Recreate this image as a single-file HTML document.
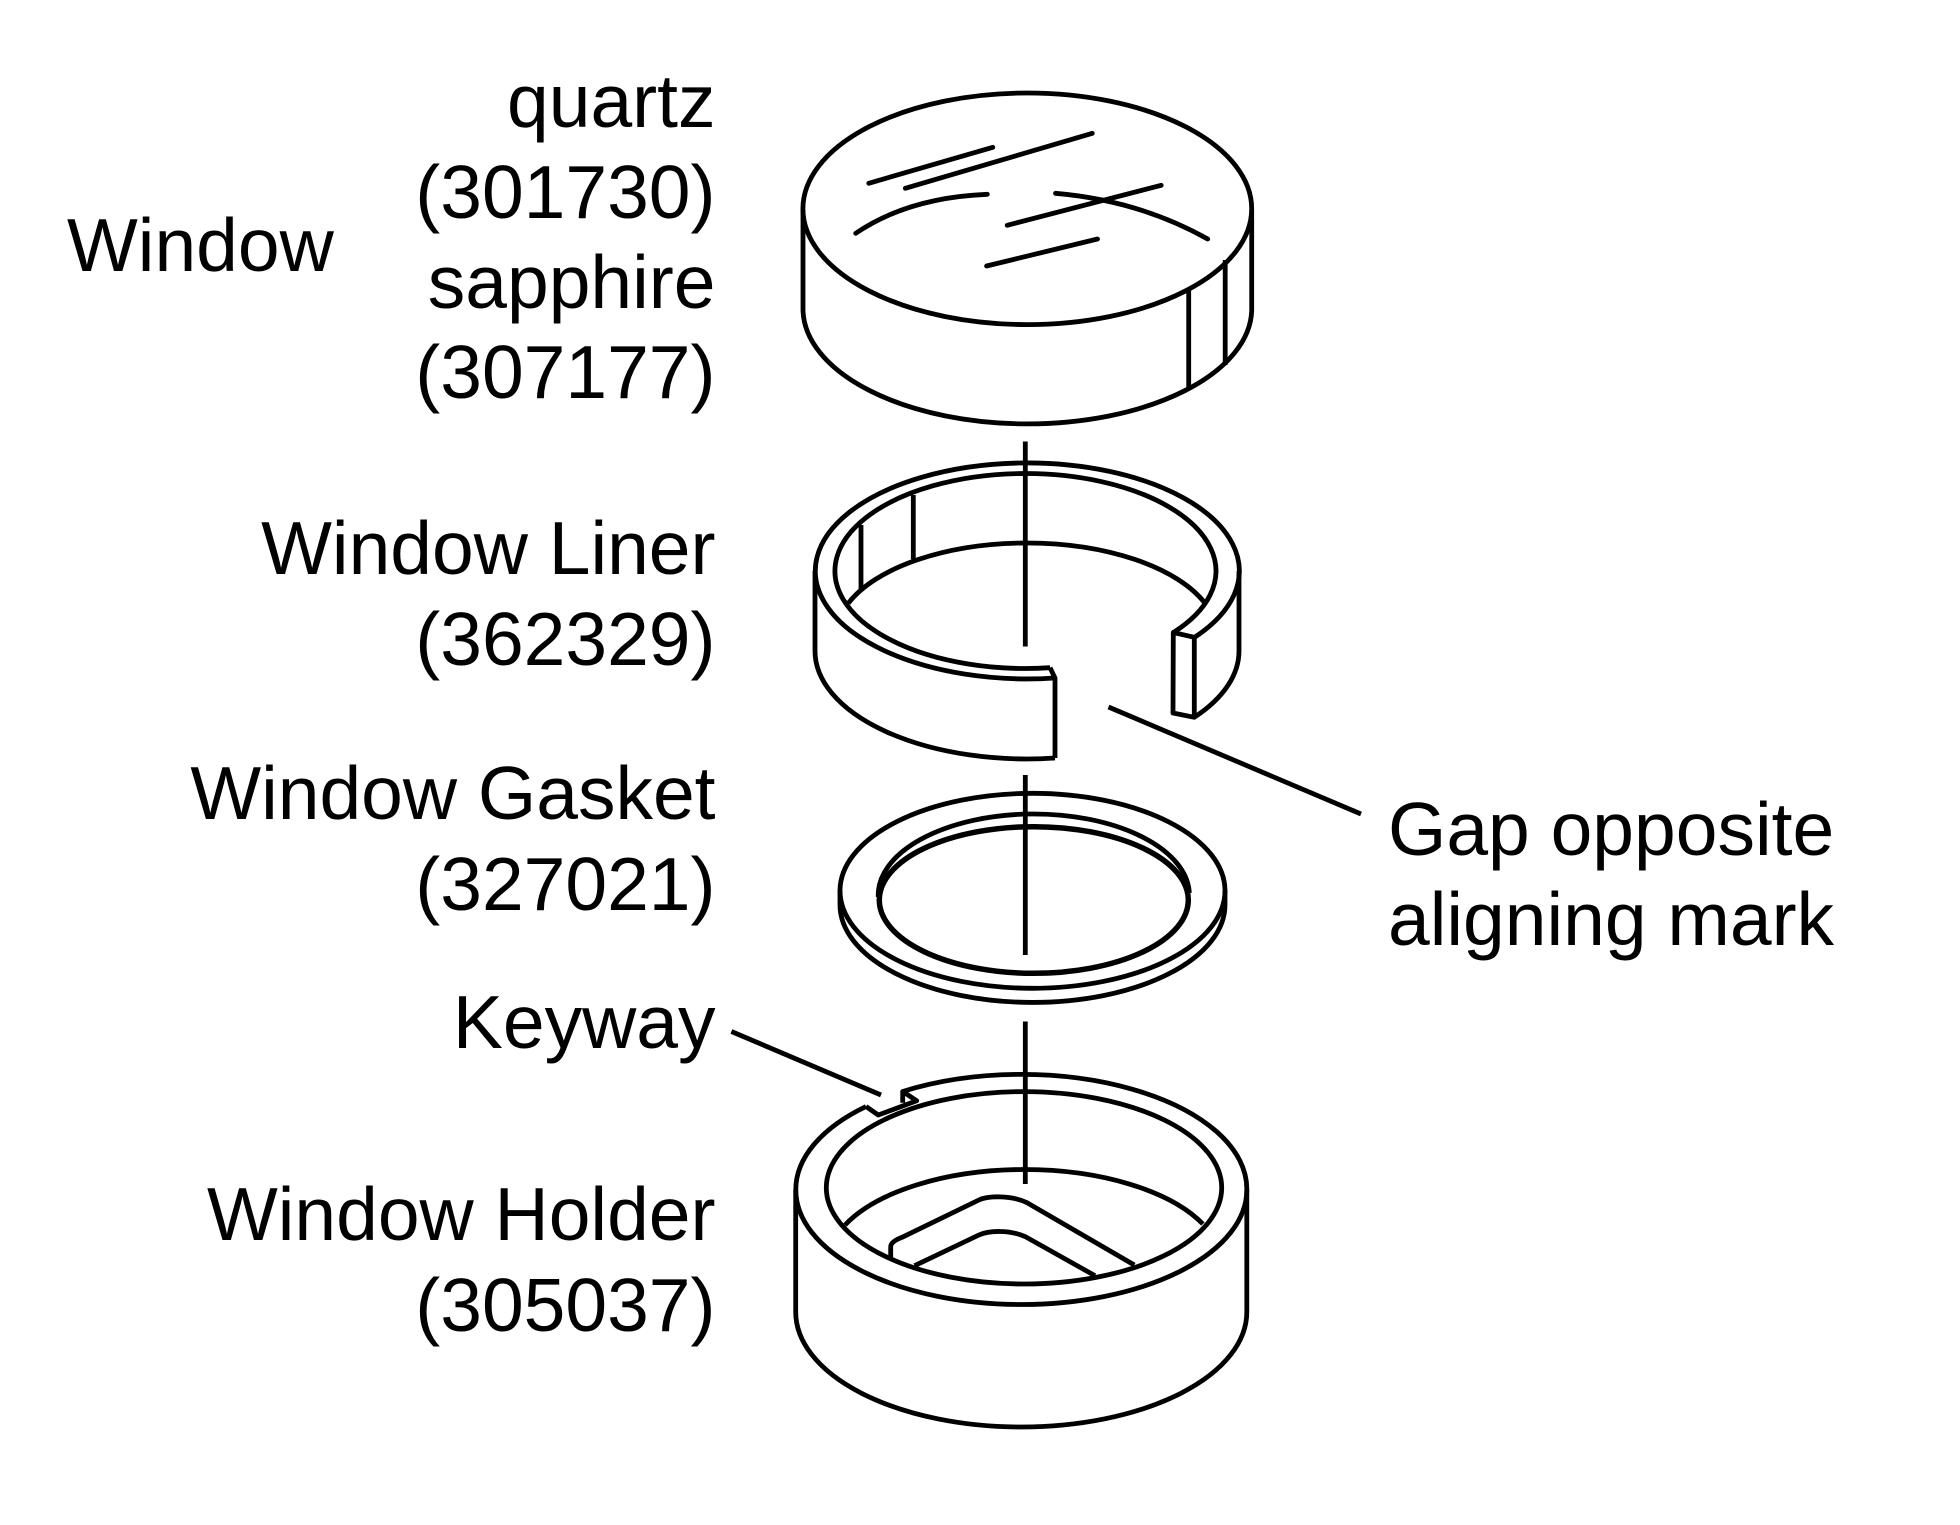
<!DOCTYPE html>
<html>
<head>
<meta charset="utf-8">
<style>
html,body{margin:0;padding:0;background:#fff;}
svg{display:block;}
text{font-family:"Liberation Sans",Arial,sans-serif;font-size:75px;fill:#000;}
.e{text-anchor:end;}
</style>
</head>
<body>
<svg width="1960" height="1525" viewBox="0 0 1960 1525" xmlns="http://www.w3.org/2000/svg">
<rect width="1960" height="1525" fill="#fff"/>
<g fill="none" stroke="#000" stroke-width="4.8" stroke-linejoin="round">
  <!-- Window -->
  <ellipse cx="1027.3" cy="208.8" rx="224.4" ry="115.8"/>
  <path d="M803 210V311A224.4 115.3 0 0 0 1251.7 311V210"/>
  <path d="M1188.7 288V390M1225.2 260V365"/>
  <g stroke-linecap="round">
    <path d="M868.8 183.3L992.8 147.3M905.3 188.3L1092.3 133.3"/>
    <path d="M855.7 233.3Q908.4 197.5 987.3 194.3"/>
    <path d="M1007.2 225.3L1161.2 185.3"/>
    <path d="M1055.5 193.3Q1139 200.5 1207.7 239"/>
    <path d="M986.6 266L1097.5 239"/>
  </g>
  <!-- Axis -->
  <path d="M1025.3 441.5V646.5M1025.3 775V955M1025.3 1021.5V1184"/>
  <!-- Liner -->
  <path d="M1055 678A212 108 0 1 1 1195 637"/>
  <path d="M1050 667.7A190.5 97.5 0 1 1 1173.3 632.5"/>
  <path d="M1050 667.7L1055 678V758"/>
  <path d="M815 571V650A212 108 0 0 0 1055 758"/>
  <path d="M848.3 603.3A190.5 93 0 0 1 1205 603.3"/>
  <path d="M861 525V590M913.3 495V559.3"/>
  <path d="M1173.3 632.5L1194.3 637.3V717.3L1173 713Z"/>
  <path d="M1194.3 717.3A212 108 0 0 0 1239 650V571"/>
  <path d="M1108.5 707L1361 814"/>
  <!-- Gasket -->
  <ellipse cx="1032.5" cy="890.8" rx="192.5" ry="97.5"/>
  <path d="M840 890V905A192.5 97.5 0 0 0 1225 905V890"/>
  <path d="M878.3 897A155.5 81 0 0 1 1189.3 893"/>
  <ellipse cx="1033.8" cy="900" rx="154.5" ry="73.3" stroke-width="5.5"/>
  <!-- Holder -->
  <path d="M731.4 1031.5L881 1095"/>
  <path d="M866 1106.5L878.3 1115L916.7 1100.7L902.7 1091.5V1102.7"/>
  <path d="M866 1106.5A225.5 114.5 0 0 0 795.8 1190A225.5 114.5 0 0 0 1246.8 1190A225.5 114.5 0 0 0 902.7 1091.5"/>
  <ellipse cx="1024" cy="1187.8" rx="197.7" ry="96.2"/>
  <path d="M795.7 1190V1312A225.5 115 0 0 0 1246.8 1312V1190"/>
  <path d="M845 1225A197 94.5 0 0 1 1202.9 1224"/>
  <path d="M890.7 1257.3V1246.7Q890.7 1241.7 902.1 1237.3L978.9 1200C987.9 1195.7 1011 1195 1027 1202.7L1134.3 1265"/>
  <path d="M914.6 1265.7L978.9 1235C987.9 1230.7 1009.3 1229.3 1025.4 1236.7L1095 1275.7"/>
</g>
<text x="67" y="271">Window</text>
<text class="e" x="715.5" y="127">quartz</text>
<text class="e" x="715.5" y="218">(301730)</text>
<text class="e" x="715.5" y="308">sapphire</text>
<text class="e" x="715.5" y="398">(307177)</text>
<text class="e" x="715.5" y="574">Window Liner</text>
<text class="e" x="715.5" y="665">(362329)</text>
<text class="e" x="715.5" y="819">Window Gasket</text>
<text class="e" x="715.5" y="910">(327021)</text>
<text class="e" x="715.5" y="1048">Keyway</text>
<text class="e" x="715.5" y="1240">Window Holder</text>
<text class="e" x="715.5" y="1331">(305037)</text>
<text x="1388" y="855">Gap opposite</text>
<text x="1388" y="945">aligning mark</text>
</svg>
</body>
</html>
